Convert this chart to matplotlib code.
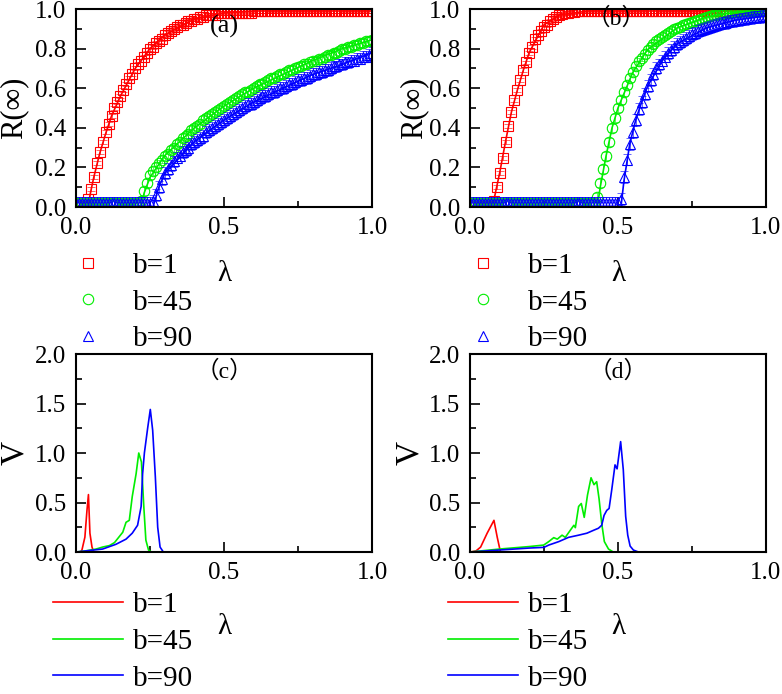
import numpy as np
import matplotlib
matplotlib.use('Agg')
import matplotlib.pyplot as plt
from matplotlib.ticker import MultipleLocator

plt.rcParams['font.family'] = 'Liberation Serif'
plt.rcParams['mathtext.fontset'] = 'stix'

labels = ['b=1', 'b=45', 'b=90']
colors = ['#ff0000', '#00ee00', '#0000ff']
markers = ['s', 'o', '^']

# simulation points, lambda = 0, 0.01, ..., 1.0
lam_sim = np.round(np.arange(0, 1.001, 0.01), 2)

# panel (a)
r_a_b1 = [0.02, 0.02, 0.02, 0.02, 0.04, 0.09, 0.15, 0.22, 0.28, 0.33,
          0.38, 0.42, 0.46, 0.50, 0.53, 0.56, 0.59, 0.62, 0.65, 0.67,
          0.70, 0.72, 0.74, 0.76, 0.78, 0.80, 0.81, 0.83, 0.84, 0.85,
          0.87, 0.88, 0.89, 0.90, 0.91, 0.92, 0.92, 0.93, 0.94, 0.94,
          0.95, 0.95, 0.96, 0.96, 0.97, 0.97, 0.97, 0.97, 0.98, 0.98,
          0.98, 0.98, 0.98, 0.98, 0.98, 0.98, 0.98, 0.98, 0.98, 0.98,
          0.99, 0.99, 0.99, 0.99, 0.99, 0.99, 0.99, 0.99, 0.99, 0.99,
          0.99, 0.99, 0.99, 0.99, 0.99, 0.99, 0.99, 0.99, 0.99, 0.99,
          0.99, 0.99, 0.99, 0.99, 0.99, 0.99, 0.99, 0.99, 0.99, 0.99,
          0.99, 0.99, 0.99, 0.99, 0.99, 0.99, 0.99, 0.99, 0.99, 0.99,
          0.99]
r_a_b45 = [0.02, 0.02, 0.02, 0.02, 0.02, 0.02, 0.02, 0.02, 0.02, 0.02,
           0.02, 0.02, 0.02, 0.02, 0.02, 0.02, 0.02, 0.02, 0.02, 0.02,
           0.02, 0.02, 0.03, 0.08, 0.12, 0.16, 0.18, 0.20, 0.22, 0.24,
           0.26, 0.27, 0.29, 0.30, 0.32, 0.33, 0.35, 0.36, 0.37, 0.39,
           0.40, 0.41, 0.42, 0.44, 0.45, 0.46, 0.47, 0.48, 0.49, 0.50,
           0.51, 0.52, 0.53, 0.54, 0.55, 0.56, 0.57, 0.58, 0.58, 0.59,
           0.60, 0.61, 0.62, 0.62, 0.63, 0.64, 0.65, 0.65, 0.66, 0.67,
           0.67, 0.68, 0.69, 0.69, 0.70, 0.705, 0.71, 0.72, 0.72, 0.73,
           0.74, 0.74, 0.75, 0.75, 0.76, 0.77, 0.77, 0.78, 0.78, 0.79,
           0.80, 0.80, 0.81, 0.81, 0.82, 0.82, 0.83, 0.83, 0.84, 0.84,
           0.845]
r_a_b90 = [0.02, 0.02, 0.02, 0.02, 0.02, 0.02, 0.02, 0.02, 0.02, 0.02,
           0.02, 0.02, 0.02, 0.02, 0.02, 0.02, 0.02, 0.02, 0.02, 0.02,
           0.02, 0.02, 0.02, 0.02, 0.02, 0.02, 0.03, 0.06, 0.10, 0.14,
           0.17, 0.19, 0.21, 0.23, 0.25, 0.26, 0.28, 0.29, 0.30, 0.32,
           0.33, 0.34, 0.35, 0.36, 0.38, 0.39, 0.40, 0.41, 0.42, 0.43,
           0.44, 0.45, 0.46, 0.47, 0.48, 0.49, 0.50, 0.51, 0.52, 0.52,
           0.53, 0.54, 0.55, 0.56, 0.56, 0.57, 0.58, 0.58, 0.59, 0.60,
           0.60, 0.61, 0.62, 0.62, 0.63, 0.64, 0.64, 0.65, 0.65, 0.66,
           0.67, 0.67, 0.68, 0.68, 0.69, 0.69, 0.70, 0.71, 0.71, 0.72,
           0.72, 0.73, 0.73, 0.74, 0.74, 0.75, 0.75, 0.76, 0.76, 0.77,
           0.78]

# panel (b)
r_b_b1 = [0.02, 0.02, 0.02, 0.02, 0.02, 0.02, 0.02, 0.02, 0.03, 0.10,
          0.17, 0.25, 0.33, 0.41, 0.48, 0.54, 0.59, 0.64, 0.69, 0.73,
          0.78, 0.81, 0.85, 0.87, 0.89, 0.91, 0.92, 0.94, 0.95, 0.96,
          0.97, 0.975, 0.98, 0.98, 0.985, 0.985, 0.99, 0.99, 0.99, 0.99,
          0.99, 0.99, 0.99, 0.99, 0.99, 0.99, 0.99, 0.99, 0.99, 0.99,
          0.99, 0.99, 0.99, 0.99, 0.99, 0.99, 0.99, 0.99, 0.99, 0.99,
          0.99, 0.99, 0.99, 0.99, 0.99, 0.99, 0.99, 0.99, 0.99, 0.99,
          0.99, 0.99, 0.99, 0.99, 0.99, 0.99, 0.99, 0.99, 0.99, 0.99,
          0.99, 0.99, 0.99, 0.99, 0.99, 0.99, 0.99, 0.99, 0.99, 0.99,
          0.99, 0.99, 0.99, 0.99, 0.99, 0.99, 0.99, 0.99, 0.99, 0.99,
          0.99]
r_b_b45 = [0.02, 0.02, 0.02, 0.02, 0.02, 0.02, 0.02, 0.02, 0.02, 0.02,
           0.02, 0.02, 0.02, 0.02, 0.02, 0.02, 0.02, 0.02, 0.02, 0.02,
           0.02, 0.02, 0.02, 0.02, 0.02, 0.02, 0.02, 0.02, 0.02, 0.02,
           0.02, 0.02, 0.02, 0.02, 0.02, 0.02, 0.02, 0.02, 0.02, 0.02,
           0.02, 0.02, 0.02, 0.05, 0.12, 0.19, 0.26, 0.33, 0.40, 0.45,
           0.50, 0.54, 0.58, 0.615, 0.65, 0.68, 0.71, 0.735, 0.755, 0.775,
           0.795, 0.81, 0.825, 0.84, 0.85, 0.86, 0.87, 0.88, 0.89, 0.90,
           0.905, 0.91, 0.92, 0.925, 0.93, 0.935, 0.94, 0.945, 0.95, 0.955,
           0.96, 0.965, 0.97, 0.97, 0.975, 0.975, 0.98, 0.98, 0.98, 0.985,
           0.985, 0.985, 0.99, 0.99, 0.99, 0.99, 0.99, 0.99, 0.99, 0.99,
           0.99]
r_b_b90 = [0.02, 0.02, 0.02, 0.02, 0.02, 0.02, 0.02, 0.02, 0.02, 0.02,
           0.02, 0.02, 0.02, 0.02, 0.02, 0.02, 0.02, 0.02, 0.02, 0.02,
           0.02, 0.02, 0.02, 0.02, 0.02, 0.02, 0.02, 0.02, 0.02, 0.02,
           0.02, 0.02, 0.02, 0.02, 0.02, 0.02, 0.02, 0.02, 0.02, 0.02,
           0.02, 0.02, 0.02, 0.02, 0.02, 0.02, 0.02, 0.02, 0.02, 0.02,
           0.02, 0.04, 0.15, 0.24, 0.32, 0.38, 0.44, 0.495, 0.53, 0.57,
           0.61, 0.64, 0.67, 0.70, 0.72, 0.74, 0.76, 0.78, 0.795, 0.81,
           0.825, 0.835, 0.845, 0.855, 0.865, 0.875, 0.88, 0.89, 0.895, 0.90,
           0.905, 0.91, 0.915, 0.92, 0.925, 0.93, 0.93, 0.935, 0.94, 0.94,
           0.945, 0.945, 0.95, 0.95, 0.955, 0.955, 0.96, 0.96, 0.96, 0.965,
           0.965]

# theory lines for (a) and (b)
th_a = [
    ([0, 0.04, 0.05, 0.06, 0.07, 0.08, 0.10, 0.12, 0.15, 0.20, 0.25, 0.30, 0.40, 0.50, 0.60, 0.80, 1.0],
     [0, 0, 0.08, 0.15, 0.21, 0.27, 0.37, 0.46, 0.56, 0.70, 0.80, 0.87, 0.95, 0.98, 0.99, 0.99, 0.99]),
    ([0, 0.22, 0.23, 0.25, 0.30, 0.40, 0.50, 0.60, 0.70, 0.80, 0.90, 1.0],
     [0, 0, 0.07, 0.15, 0.26, 0.40, 0.51, 0.60, 0.67, 0.74, 0.80, 0.845]),
    ([0, 0.26, 0.27, 0.28, 0.30, 0.40, 0.50, 0.60, 0.70, 0.80, 0.90, 1.0],
     [0, 0, 0.05, 0.10, 0.17, 0.33, 0.44, 0.53, 0.60, 0.67, 0.72, 0.78]),
]
th_b = [
    ([0, 0.075, 0.08, 0.09, 0.10, 0.12, 0.14, 0.16, 0.18, 0.20, 0.25, 0.30, 0.40, 1.0],
     [0, 0, 0.03, 0.10, 0.17, 0.33, 0.48, 0.59, 0.69, 0.78, 0.92, 0.97, 0.99, 0.99]),
    ([0, 0.43, 0.44, 0.46, 0.48, 0.50, 0.55, 0.60, 0.70, 0.80, 0.90, 1.0],
     [0, 0, 0.10, 0.26, 0.40, 0.50, 0.68, 0.795, 0.905, 0.96, 0.985, 0.99]),
    ([0, 0.51, 0.52, 0.54, 0.56, 0.58, 0.60, 0.65, 0.70, 0.80, 0.90, 1.0],
     [0, 0, 0.13, 0.32, 0.44, 0.53, 0.61, 0.74, 0.825, 0.905, 0.945, 0.965]),
]
err = [0.01, 0.02, 0.03]

# variability V, panel (c)
v_c = [
    ([0, 0.015, 0.02, 0.03, 0.037, 0.042, 0.047, 0.054, 0.06, 1.0],
     [0, 0, 0.02, 0.15, 0.42, 0.58, 0.19, 0.05, 0, 0]),
    ([0, 0.03, 0.068, 0.09, 0.113, 0.13, 0.146, 0.158, 0.169, 0.18, 0.19, 0.203, 0.212,
      0.221, 0.229, 0.236, 0.245, 0.255, 1.0],
     [0, 0.01, 0.03, 0.05, 0.065, 0.095, 0.155, 0.2, 0.3, 0.32, 0.56, 0.79, 1.0,
      0.91, 0.46, 0.12, 0.02, 0, 0]),
    ([0, 0.03, 0.09, 0.135, 0.169, 0.19, 0.208, 0.22, 0.225, 0.231, 0.242, 0.251,
      0.259, 0.268, 0.276, 0.284, 0.295, 1.0],
     [0, 0.01, 0.03, 0.078, 0.13, 0.19, 0.27, 0.46, 0.79, 1.0, 1.25, 1.44,
      1.23, 0.76, 0.25, 0.05, 0, 0]),
]
# panel (d)
v_d = [
    ([0, 0.02, 0.036, 0.058, 0.081, 0.092, 0.103, 1.0],
     [0, 0.01, 0.05, 0.19, 0.32, 0.15, 0, 0]),
    ([0, 0.1, 0.2, 0.249, 0.266, 0.283, 0.295, 0.311, 0.322, 0.339, 0.351, 0.356,
      0.367, 0.376, 0.386, 0.397, 0.409, 0.419, 0.428, 0.436, 0.445, 0.454, 0.468, 0.484, 1.0],
     [0, 0.03, 0.055, 0.07, 0.105, 0.145, 0.13, 0.17, 0.148, 0.22, 0.27, 0.246,
      0.46, 0.49, 0.35, 0.575, 0.75, 0.68, 0.71, 0.54, 0.29, 0.105, 0.03, 0, 0]),
    ([0, 0.1, 0.2, 0.25, 0.266, 0.3, 0.333, 0.367, 0.395, 0.418, 0.434, 0.445, 0.453,
      0.462, 0.47, 0.479, 0.49, 0.497, 0.509, 0.518, 0.526, 0.533, 0.541, 0.552, 0.569, 1.0],
     [0, 0.02, 0.04, 0.047, 0.07, 0.105, 0.148, 0.17, 0.19, 0.22, 0.24, 0.27, 0.37,
      0.42, 0.44, 0.63, 0.88, 0.84, 1.115, 0.83, 0.36, 0.17, 0.06, 0.02, 0, 0]),
]

fig = plt.figure(figsize=(7.82, 6.94), dpi=100)
ax_a = fig.add_axes([0.0972, 0.7017, 0.3785, 0.2853])
ax_b = fig.add_axes([0.601, 0.7017, 0.3785, 0.2853])
ax_c = fig.add_axes([0.0972, 0.2046, 0.3785, 0.2853])
ax_d = fig.add_axes([0.601, 0.2046, 0.3785, 0.2853])


def style(ax, ymax, ymaj, ymin, xpad):
    ax.set_xlim(0, 1)
    ax.set_ylim(0, ymax)
    ax.xaxis.set_major_locator(MultipleLocator(0.5))
    ax.xaxis.set_minor_locator(MultipleLocator(0.25))
    ax.yaxis.set_major_locator(MultipleLocator(ymaj))
    ax.yaxis.set_minor_locator(MultipleLocator(ymin))
    ax.tick_params(which='both', direction='in', top=False, right=False,
                   labelsize=18, width=1.2)
    ax.tick_params(which='major', length=7)
    ax.tick_params(which='minor', length=4)
    ax.tick_params(axis='x', pad=7)
    ax.tick_params(axis='y', pad=7)
    ax.xaxis.set_major_formatter(plt.FormatStrFormatter('%.1f'))
    ax.yaxis.set_major_formatter(plt.FormatStrFormatter('%.1f'))
    for s in ax.spines.values():
        s.set_linewidth(1.5)
    ax.set_xlabel('λ', fontsize=21, labelpad=xpad)


sims_a = [r_a_b1, r_a_b45, r_a_b90]
sims_b = [r_b_b1, r_b_b45, r_b_b90]
for ax, sims, th, lx in [(ax_a, sims_a, th_a, -0.16), (ax_b, sims_b, th_b, -0.14)]:
    style(ax, 1.0, 0.2, 0.1, 16)
    for i in range(3):
        ax.errorbar(lam_sim, sims[i], yerr=err[i], fmt='none', ecolor=colors[i],
                    elinewidth=0.6, capsize=3, capthick=0.6, alpha=0.7)
        ax.plot(lam_sim, sims[i], linestyle='none', marker=markers[i],
                markersize=7.5, markerfacecolor='none', markeredgecolor=colors[i],
                markeredgewidth=0.8, label=labels[i])
        ax.plot(th[i][0], th[i][1], color=colors[i], linewidth=1.2)
    ax.set_ylabel('R(∞)', fontsize=22)
    ax.yaxis.set_label_coords(lx, 0.5)

for ax, vs, lx in [(ax_c, v_c, -0.155), (ax_d, v_d, -0.15)]:
    style(ax, 2.0, 0.5, 0.25, 22)
    for i in range(3):
        ax.plot(vs[i][0], vs[i][1], color=colors[i], linewidth=1.2, label=labels[i])
    ax.set_ylabel('V', fontsize=24)
    ax.yaxis.set_label_coords(lx, 0.5)

cjk = ['Liberation Serif', 'Noto Sans CJK SC']
ax_a.text(0.5, 0.91, '(a)', transform=ax_a.transAxes, ha='center', va='center', fontsize=19)
ax_b.text(0.495, 0.95, '（b）', transform=ax_b.transAxes, ha='center', va='center',
          fontsize=17, family=cjk)
ax_c.text(0.5, 0.91, '（c）', transform=ax_c.transAxes, ha='center', va='center',
          fontsize=17, family=cjk)
ax_d.text(0.5, 0.91, '（d）', transform=ax_d.transAxes, ha='center', va='center',
          fontsize=17, family=cjk)

# legends below each panel
leg_kw = dict(loc='upper left', frameon=False, fontsize=21, handlelength=2.4,
              handletextpad=0.35, labelspacing=0.35, borderpad=0, borderaxespad=0)
for ax, x0, y0 in [(ax_a, 53 / 782, 0.636), (ax_b, 448 / 782, 0.636),
                   (ax_c, 53 / 782, 0.147), (ax_d, 448 / 782, 0.147)]:
    ax.legend(bbox_to_anchor=(x0, y0), bbox_transform=fig.transFigure, **leg_kw)

fig.savefig('out.png', dpi=100)
